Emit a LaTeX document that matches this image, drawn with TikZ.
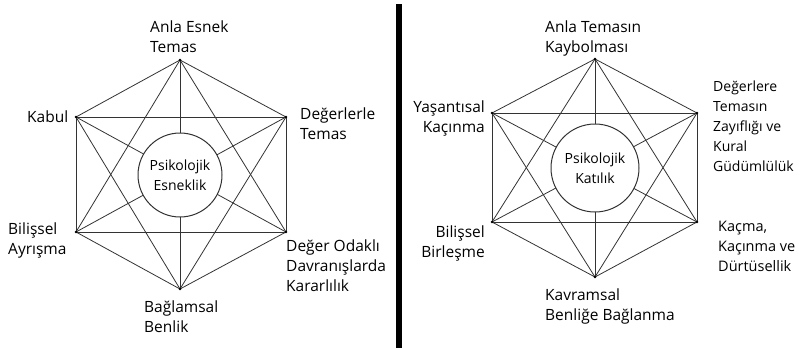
\documentclass[tikz,border=0pt]{standalone}
\usepackage{fontspec}
\setmainfont{Open Sans}
\begin{document}
\begin{tikzpicture}[x=1pt,y=-1pt,
        edge/.style={draw=black!80, line width=0.8pt},
        lab/.style={inner sep=0pt, font=\fontsize{15.5}{20}\selectfont},
        core/.style={circle, draw=black!80, fill=white, line width=1pt,
            inner sep=0pt, align=center, font=\fontsize{14}{20}\selectfont}]
    \useasboundingbox (0,0) rectangle (801,348);
    % corners of the two hexagons
    \foreach \s / \cx / \top / \bot / \xl / \xr / \yu / \yd in
        {L/180/60/289/76/286/117/232, R/595/59/277/492/697/113/222}
    {
        \coordinate (\s t) at (\cx, \top);
        \coordinate (\s b) at (\cx, \bot);
        \coordinate (\s ul) at (\xl, \yu);
        \coordinate (\s ur) at (\xr, \yu);
        \coordinate (\s ll) at (\xl, \yd);
        \coordinate (\s lr) at (\xr, \yd);
        % every corner joined to every other one
        \foreach \a [count=\i] in {t,ur,lr,b,ll,ul}
            \foreach \b [count=\j] in {t,ur,lr,b,ll,ul}
            {
                \ifnum\j>\i
                    \draw[edge] (\s\a) -- (\s\b);
                \fi
            }
        \foreach \c in {t,ur,lr,b,ll,ul}
            \fill (\s\c) circle (1.3pt);
    }
    \node[core, minimum size=84pt] (flex) at (180,175) {Psikolojik\\Esneklik};
    \node[core, minimum size=88pt] (rigid) at (595,168) {Psikolojik\\Katılık};
    % left labels (base = last line)
    \node[lab, anchor=base west, align=left] (la) at (150,52.5) {Anla Esnek\\Temas};
    \node[lab, anchor=base west, align=left] (lb) at (27,122) {Kabul};
    \node[lab, anchor=base west, align=left] (lc) at (300,139) {Değerlerle\\Temas};
    \node[lab, anchor=base west, align=left] (ld) at (8,254) {Bilişsel\\Ayrışma};
    \node[lab, anchor=base west, align=left] (le) at (286,291) {Değer Odaklı\\Davranışlarda\\Kararlılık};
    \node[lab, anchor=base west, align=left] (lf) at (144,332) {Bağlamsal\\Benlik};
    % divider
    \draw[line width=6pt] (399,4) -- (399,348);
    % right labels
    \node[lab, anchor=base west, align=left] (ra) at (545,52) {Anla Temasın\\Kaybolması};
    \node[lab, anchor=base east, align=right] (rb) at (485,132) {Yaşantısal\\Kaçınma};
    \node[lab, anchor=base west, align=left, font=\fontsize{14}{20}\selectfont] (rc) at (713,171) {Değerlere\\Temasın\\Zayıflığı ve\\Kural\\Güdümlülük};
    \node[lab, anchor=base east, align=right] (rd) at (485,257) {Bilişsel\\Birleşme};
    \node[lab, anchor=base west, align=left, font=\fontsize{14.5}{20}\selectfont] (re) at (718,271) {Kaçma,\\Kaçınma ve\\Dürtüsellik};
    \node[lab, anchor=base west, align=left] (rf) at (545,320) {Kavramsal\\Benliğe Bağlanma};
\end{tikzpicture}
\end{document}
